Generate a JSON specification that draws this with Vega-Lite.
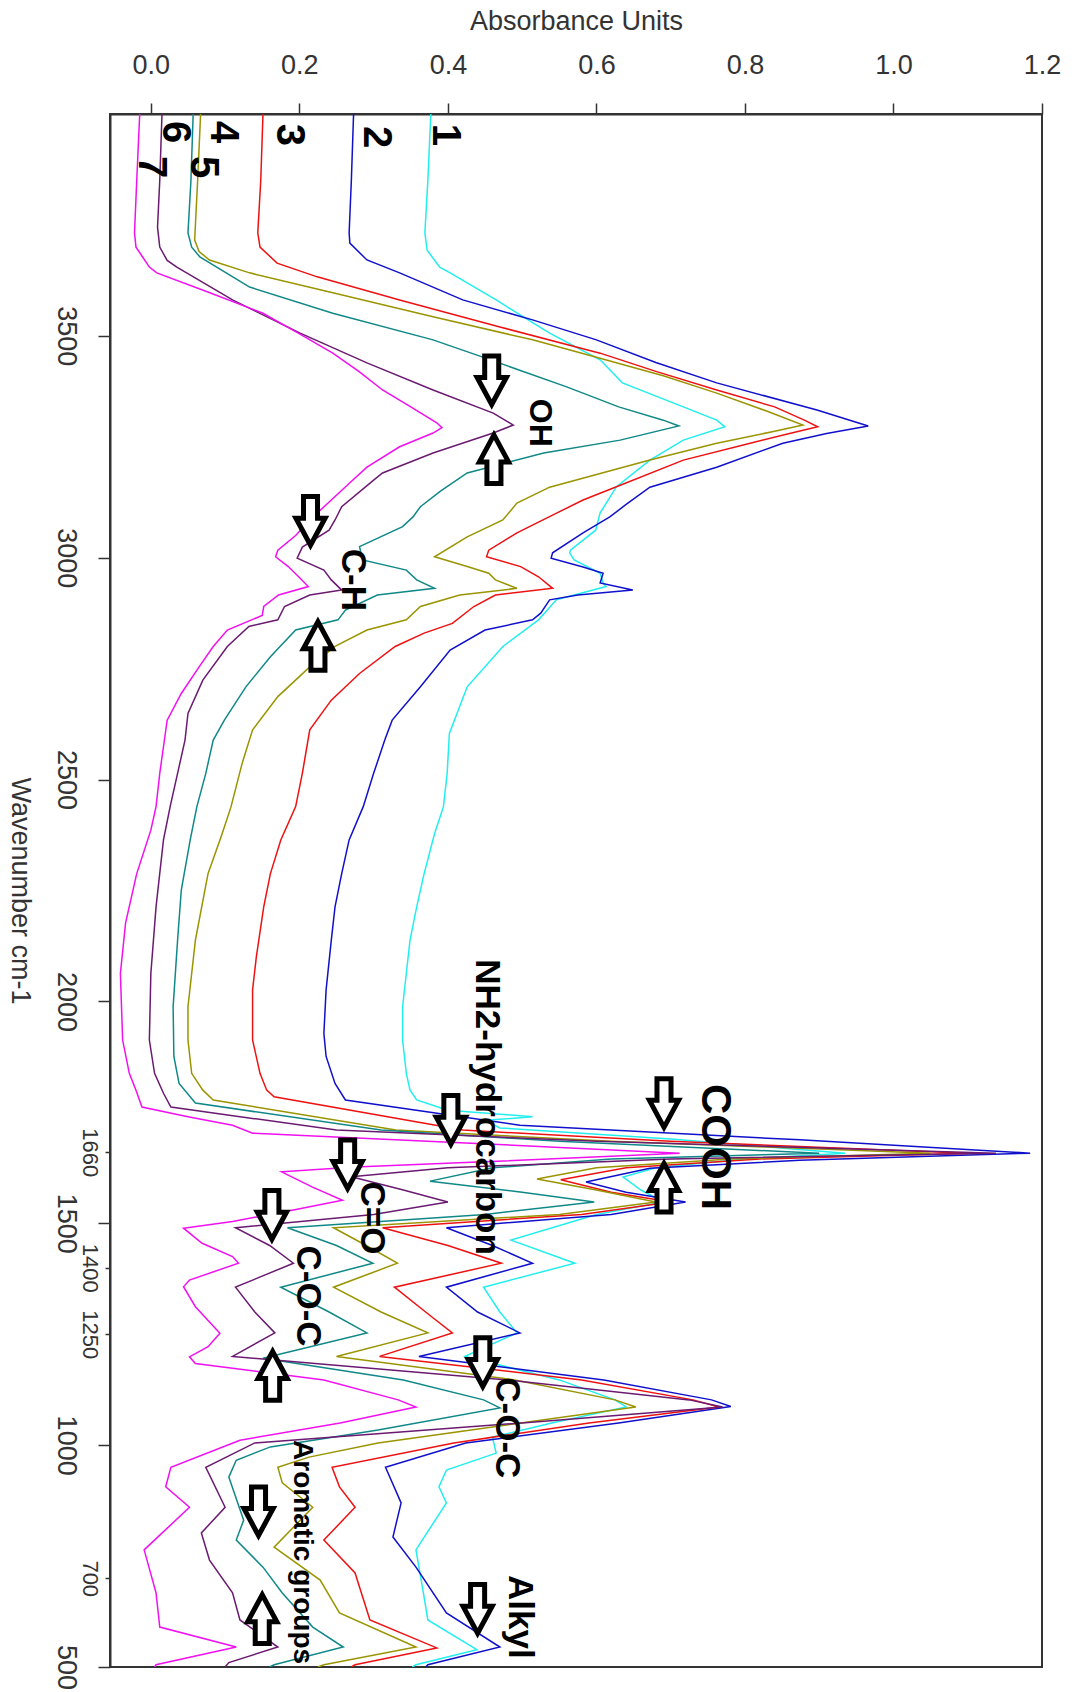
{
  "$schema": "https://vega.github.io/schema/vega-lite/v6.json",
  "width": 932,
  "height": 1553,
  "autosize": {"type": "none"},
  "padding": {"left": 110, "top": 114, "right": 30, "bottom": 25},
  "background": "white",
  "config": {
    "font": "Liberation Sans",
    "view": {"stroke": "#333333", "strokeWidth": 2}
  },
  "datasets": {
    "curves": [
      {"s":"1","w":4000,"a":0.377},{"s":"1","w":3850,"a":0.373},{"s":"1","w":3732,"a":0.369},{"s":"1","w":3693,"a":0.372},{"s":"1","w":3655,"a":0.389},{"s":"1","w":3642,"a":0.403},{"s":"1","w":3581,"a":0.465},{"s":"1","w":3506,"a":0.537},{"s":"1","w":3446,"a":0.605},{"s":"1","w":3394,"a":0.635},{"s":"1","w":3340,"a":0.717},{"s":"1","w":3310,"a":0.762},{"s":"1","w":3295,"a":0.773},{"s":"1","w":3265,"a":0.717},{"s":"1","w":3220,"a":0.672},{"s":"1","w":3160,"a":0.627},{"s":"1","w":3101,"a":0.605},{"s":"1","w":3062,"a":0.599},{"s":"1","w":3017,"a":0.565},{"s":"1","w":3011,"a":0.564},{"s":"1","w":2995,"a":0.570},{"s":"1","w":2965,"a":0.605},{"s":"1","w":2943,"a":0.609},{"s":"1","w":2935,"a":0.613},{"s":"1","w":2916,"a":0.570},{"s":"1","w":2905,"a":0.546},{"s":"1","w":2860,"a":0.522},{"s":"1","w":2800,"a":0.474},{"s":"1","w":2709,"a":0.426},{"s":"1","w":2604,"a":0.402},{"s":"1","w":2514,"a":0.399},{"s":"1","w":2439,"a":0.394},{"s":"1","w":2378,"a":0.382},{"s":"1","w":2288,"a":0.368},{"s":"1","w":2213,"a":0.358},{"s":"1","w":2138,"a":0.349},{"s":"1","w":2063,"a":0.344},{"s":"1","w":1988,"a":0.339},{"s":"1","w":1913,"a":0.339},{"s":"1","w":1838,"a":0.344},{"s":"1","w":1800,"a":0.349},{"s":"1","w":1778,"a":0.358},{"s":"1","w":1755,"a":0.400},{"s":"1","w":1740,"a":0.514},{"s":"1","w":1732,"a":0.450},{"s":"1","w":1715,"a":0.470},{"s":"1","w":1690,"a":0.700},{"s":"1","w":1658,"a":0.935},{"s":"1","w":1645,"a":0.800},{"s":"1","w":1625,"a":0.680},{"s":"1","w":1604,"a":0.636},{"s":"1","w":1575,"a":0.660},{"s":"1","w":1548,"a":0.690},{"s":"1","w":1520,"a":0.600},{"s":"1","w":1462,"a":0.485},{"s":"1","w":1410,"a":0.571},{"s":"1","w":1356,"a":0.448},{"s":"1","w":1300,"a":0.470},{"s":"1","w":1253,"a":0.493},{"s":"1","w":1200,"a":0.423},{"s":"1","w":1147,"a":0.550},{"s":"1","w":1102,"a":0.625},{"s":"1","w":1086,"a":0.640},{"s":"1","w":1050,"a":0.540},{"s":"1","w":1018,"a":0.460},{"s":"1","w":982,"a":0.465},{"s":"1","w":944,"a":0.398},{"s":"1","w":906,"a":0.388},{"s":"1","w":870,"a":0.398},{"s":"1","w":764,"a":0.357},{"s":"1","w":667,"a":0.367},{"s":"1","w":606,"a":0.373},{"s":"1","w":539,"a":0.439},{"s":"1","w":505,"a":0.357},{"s":"1","w":500,"a":0.352},
      {"s":"2","w":4000,"a":0.273},{"s":"2","w":3850,"a":0.270},{"s":"2","w":3732,"a":0.267},{"s":"2","w":3709,"a":0.268},{"s":"2","w":3671,"a":0.291},{"s":"2","w":3642,"a":0.335},{"s":"2","w":3581,"a":0.420},{"s":"2","w":3536,"a":0.514},{"s":"2","w":3491,"a":0.600},{"s":"2","w":3440,"a":0.680},{"s":"2","w":3394,"a":0.762},{"s":"2","w":3333,"a":0.897},{"s":"2","w":3297,"a":0.966},{"s":"2","w":3280,"a":0.910},{"s":"2","w":3258,"a":0.851},{"s":"2","w":3204,"a":0.762},{"s":"2","w":3159,"a":0.672},{"s":"2","w":3120,"a":0.640},{"s":"2","w":3092,"a":0.618},{"s":"2","w":3056,"a":0.582},{"s":"2","w":3011,"a":0.541},{"s":"2","w":2999,"a":0.539},{"s":"2","w":2979,"a":0.582},{"s":"2","w":2965,"a":0.609},{"s":"2","w":2943,"a":0.605},{"s":"2","w":2927,"a":0.649},{"s":"2","w":2916,"a":0.575},{"s":"2","w":2905,"a":0.537},{"s":"2","w":2875,"a":0.525},{"s":"2","w":2860,"a":0.514},{"s":"2","w":2837,"a":0.450},{"s":"2","w":2792,"a":0.403},{"s":"2","w":2709,"a":0.363},{"s":"2","w":2634,"a":0.325},{"s":"2","w":2589,"a":0.315},{"s":"2","w":2514,"a":0.300},{"s":"2","w":2439,"a":0.286},{"s":"2","w":2364,"a":0.267},{"s":"2","w":2288,"a":0.257},{"s":"2","w":2213,"a":0.248},{"s":"2","w":2138,"a":0.243},{"s":"2","w":2026,"a":0.236},{"s":"2","w":1928,"a":0.233},{"s":"2","w":1876,"a":0.236},{"s":"2","w":1815,"a":0.248},{"s":"2","w":1778,"a":0.262},{"s":"2","w":1721,"a":0.497},{"s":"2","w":1688,"a":0.874},{"s":"2","w":1658,"a":1.184},{"s":"2","w":1642,"a":0.874},{"s":"2","w":1624,"a":0.672},{"s":"2","w":1593,"a":0.586},{"s":"2","w":1570,"a":0.640},{"s":"2","w":1548,"a":0.720},{"s":"2","w":1520,"a":0.620},{"s":"2","w":1490,"a":0.398},{"s":"2","w":1450,"a":0.460},{"s":"2","w":1410,"a":0.514},{"s":"2","w":1356,"a":0.398},{"s":"2","w":1300,"a":0.440},{"s":"2","w":1253,"a":0.497},{"s":"2","w":1200,"a":0.361},{"s":"2","w":1147,"a":0.610},{"s":"2","w":1102,"a":0.755},{"s":"2","w":1087,"a":0.781},{"s":"2","w":1050,"a":0.630},{"s":"2","w":1005,"a":0.424},{"s":"2","w":950,"a":0.316},{"s":"2","w":870,"a":0.337},{"s":"2","w":793,"a":0.326},{"s":"2","w":725,"a":0.357},{"s":"2","w":622,"a":0.398},{"s":"2","w":545,"a":0.470},{"s":"2","w":505,"a":0.373},{"s":"2","w":500,"a":0.370},
      {"s":"3","w":4000,"a":0.151},{"s":"3","w":3850,"a":0.148},{"s":"3","w":3732,"a":0.144},{"s":"3","w":3700,"a":0.147},{"s":"3","w":3664,"a":0.170},{"s":"3","w":3633,"a":0.224},{"s":"3","w":3581,"a":0.335},{"s":"3","w":3520,"a":0.470},{"s":"3","w":3461,"a":0.605},{"s":"3","w":3420,"a":0.680},{"s":"3","w":3378,"a":0.762},{"s":"3","w":3340,"a":0.840},{"s":"3","w":3310,"a":0.880},{"s":"3","w":3295,"a":0.898},{"s":"3","w":3280,"a":0.860},{"s":"3","w":3258,"a":0.807},{"s":"3","w":3220,"a":0.717},{"s":"3","w":3160,"a":0.627},{"s":"3","w":3130,"a":0.582},{"s":"3","w":3101,"a":0.547},{"s":"3","w":3056,"a":0.493},{"s":"3","w":3017,"a":0.455},{"s":"3","w":3002,"a":0.452},{"s":"3","w":2980,"a":0.498},{"s":"3","w":2957,"a":0.522},{"s":"3","w":2931,"a":0.541},{"s":"3","w":2916,"a":0.464},{"s":"3","w":2890,"a":0.435},{"s":"3","w":2852,"a":0.406},{"s":"3","w":2830,"a":0.368},{"s":"3","w":2800,"a":0.329},{"s":"3","w":2739,"a":0.281},{"s":"3","w":2679,"a":0.243},{"s":"3","w":2612,"a":0.214},{"s":"3","w":2514,"a":0.204},{"s":"3","w":2439,"a":0.195},{"s":"3","w":2364,"a":0.175},{"s":"3","w":2288,"a":0.161},{"s":"3","w":2213,"a":0.152},{"s":"3","w":2100,"a":0.142},{"s":"3","w":2026,"a":0.137},{"s":"3","w":1913,"a":0.137},{"s":"3","w":1838,"a":0.147},{"s":"3","w":1800,"a":0.156},{"s":"3","w":1785,"a":0.166},{"s":"3","w":1710,"a":0.420},{"s":"3","w":1685,"a":0.700},{"s":"3","w":1658,"a":1.100},{"s":"3","w":1645,"a":0.820},{"s":"3","w":1625,"a":0.640},{"s":"3","w":1598,"a":0.552},{"s":"3","w":1570,"a":0.620},{"s":"3","w":1548,"a":0.700},{"s":"3","w":1520,"a":0.580},{"s":"3","w":1490,"a":0.312},{"s":"3","w":1450,"a":0.400},{"s":"3","w":1410,"a":0.472},{"s":"3","w":1356,"a":0.328},{"s":"3","w":1300,"a":0.370},{"s":"3","w":1253,"a":0.406},{"s":"3","w":1200,"a":0.308},{"s":"3","w":1147,"a":0.580},{"s":"3","w":1102,"a":0.730},{"s":"3","w":1086,"a":0.765},{"s":"3","w":1050,"a":0.590},{"s":"3","w":1005,"a":0.408},{"s":"3","w":950,"a":0.244},{"s":"3","w":906,"a":0.254},{"s":"3","w":860,"a":0.275},{"s":"3","w":786,"a":0.233},{"s":"3","w":712,"a":0.275},{"s":"3","w":606,"a":0.295},{"s":"3","w":543,"a":0.385},{"s":"3","w":505,"a":0.275},{"s":"3","w":500,"a":0.270},
      {"s":"4","w":4000,"a":0.067},{"s":"4","w":3850,"a":0.063},{"s":"4","w":3716,"a":0.059},{"s":"4","w":3690,"a":0.065},{"s":"4","w":3671,"a":0.079},{"s":"4","w":3642,"a":0.133},{"s":"4","w":3597,"a":0.245},{"s":"4","w":3543,"a":0.380},{"s":"4","w":3491,"a":0.514},{"s":"4","w":3452,"a":0.600},{"s":"4","w":3410,"a":0.690},{"s":"4","w":3371,"a":0.762},{"s":"4","w":3330,"a":0.830},{"s":"4","w":3299,"a":0.878},{"s":"4","w":3285,"a":0.840},{"s":"4","w":3258,"a":0.762},{"s":"4","w":3220,"a":0.672},{"s":"4","w":3159,"a":0.537},{"s":"4","w":3123,"a":0.493},{"s":"4","w":3085,"a":0.474},{"s":"4","w":3047,"a":0.426},{"s":"4","w":3002,"a":0.382},{"s":"4","w":2980,"a":0.426},{"s":"4","w":2965,"a":0.455},{"s":"4","w":2950,"a":0.464},{"s":"4","w":2931,"a":0.493},{"s":"4","w":2916,"a":0.416},{"s":"4","w":2890,"a":0.363},{"s":"4","w":2860,"a":0.344},{"s":"4","w":2837,"a":0.291},{"s":"4","w":2800,"a":0.248},{"s":"4","w":2754,"a":0.214},{"s":"4","w":2687,"a":0.171},{"s":"4","w":2612,"a":0.137},{"s":"4","w":2537,"a":0.123},{"s":"4","w":2439,"a":0.108},{"s":"4","w":2378,"a":0.096},{"s":"4","w":2288,"a":0.077},{"s":"4","w":2138,"a":0.060},{"s":"4","w":1988,"a":0.050},{"s":"4","w":1913,"a":0.050},{"s":"4","w":1838,"a":0.055},{"s":"4","w":1800,"a":0.070},{"s":"4","w":1778,"a":0.084},{"s":"4","w":1710,"a":0.330},{"s":"4","w":1685,"a":0.620},{"s":"4","w":1658,"a":1.050},{"s":"4","w":1645,"a":0.780},{"s":"4","w":1625,"a":0.600},{"s":"4","w":1600,"a":0.520},{"s":"4","w":1575,"a":0.600},{"s":"4","w":1548,"a":0.680},{"s":"4","w":1520,"a":0.550},{"s":"4","w":1490,"a":0.246},{"s":"4","w":1450,"a":0.290},{"s":"4","w":1410,"a":0.332},{"s":"4","w":1356,"a":0.246},{"s":"4","w":1300,"a":0.310},{"s":"4","w":1253,"a":0.373},{"s":"4","w":1200,"a":0.250},{"s":"4","w":1147,"a":0.490},{"s":"4","w":1102,"a":0.625},{"s":"4","w":1086,"a":0.653},{"s":"4","w":1041,"a":0.460},{"s":"4","w":1005,"a":0.306},{"s":"4","w":973,"a":0.213},{"s":"4","w":950,"a":0.171},{"s":"4","w":915,"a":0.177},{"s":"4","w":860,"a":0.218},{"s":"4","w":770,"a":0.166},{"s":"4","w":696,"a":0.228},{"s":"4","w":622,"a":0.254},{"s":"4","w":545,"a":0.357},{"s":"4","w":505,"a":0.233},{"s":"4","w":500,"a":0.225},
      {"s":"5","w":4000,"a":0.057},{"s":"5","w":3850,"a":0.054},{"s":"5","w":3732,"a":0.050},{"s":"5","w":3700,"a":0.055},{"s":"5","w":3678,"a":0.066},{"s":"5","w":3610,"a":0.133},{"s":"5","w":3551,"a":0.245},{"s":"5","w":3491,"a":0.380},{"s":"5","w":3452,"a":0.447},{"s":"5","w":3385,"a":0.560},{"s":"5","w":3340,"a":0.630},{"s":"5","w":3310,"a":0.690},{"s":"5","w":3297,"a":0.711},{"s":"5","w":3265,"a":0.632},{"s":"5","w":3236,"a":0.529},{"s":"5","w":3191,"a":0.426},{"s":"5","w":3150,"a":0.390},{"s":"5","w":3115,"a":0.363},{"s":"5","w":3092,"a":0.353},{"s":"5","w":3070,"a":0.339},{"s":"5","w":3025,"a":0.281},{"s":"5","w":2995,"a":0.285},{"s":"5","w":2972,"a":0.344},{"s":"5","w":2950,"a":0.358},{"s":"5","w":2931,"a":0.382},{"s":"5","w":2916,"a":0.305},{"s":"5","w":2882,"a":0.262},{"s":"5","w":2860,"a":0.252},{"s":"5","w":2837,"a":0.195},{"s":"5","w":2777,"a":0.161},{"s":"5","w":2709,"a":0.128},{"s":"5","w":2634,"a":0.099},{"s":"5","w":2589,"a":0.084},{"s":"5","w":2514,"a":0.074},{"s":"5","w":2439,"a":0.062},{"s":"5","w":2364,"a":0.053},{"s":"5","w":2251,"a":0.041},{"s":"5","w":2138,"a":0.036},{"s":"5","w":1988,"a":0.030},{"s":"5","w":1876,"a":0.031},{"s":"5","w":1815,"a":0.038},{"s":"5","w":1771,"a":0.060},{"s":"5","w":1710,"a":0.310},{"s":"5","w":1685,"a":0.550},{"s":"5","w":1658,"a":0.900},{"s":"5","w":1645,"a":0.620},{"s":"5","w":1625,"a":0.460},{"s":"5","w":1595,"a":0.376},{"s":"5","w":1570,"a":0.500},{"s":"5","w":1548,"a":0.597},{"s":"5","w":1520,"a":0.450},{"s":"5","w":1490,"a":0.184},{"s":"5","w":1450,"a":0.250},{"s":"5","w":1410,"a":0.299},{"s":"5","w":1356,"a":0.175},{"s":"5","w":1300,"a":0.240},{"s":"5","w":1253,"a":0.291},{"s":"5","w":1196,"a":0.151},{"s":"5","w":1147,"a":0.340},{"s":"5","w":1102,"a":0.448},{"s":"5","w":1084,"a":0.470},{"s":"5","w":1034,"a":0.306},{"s":"5","w":996,"a":0.161},{"s":"5","w":966,"a":0.115},{"s":"5","w":928,"a":0.105},{"s":"5","w":831,"a":0.125},{"s":"5","w":786,"a":0.115},{"s":"5","w":725,"a":0.151},{"s":"5","w":667,"a":0.177},{"s":"5","w":590,"a":0.218},{"s":"5","w":545,"a":0.259},{"s":"5","w":505,"a":0.166},{"s":"5","w":500,"a":0.160},
      {"s":"6","w":4000,"a":0.015},{"s":"6","w":3850,"a":0.012},{"s":"6","w":3745,"a":0.009},{"s":"6","w":3700,"a":0.012},{"s":"6","w":3670,"a":0.022},{"s":"6","w":3655,"a":0.035},{"s":"6","w":3581,"a":0.110},{"s":"6","w":3506,"a":0.201},{"s":"6","w":3439,"a":0.291},{"s":"6","w":3378,"a":0.380},{"s":"6","w":3326,"a":0.461},{"s":"6","w":3299,"a":0.488},{"s":"6","w":3281,"a":0.461},{"s":"6","w":3236,"a":0.380},{"s":"6","w":3191,"a":0.312},{"s":"6","w":3175,"a":0.300},{"s":"6","w":3115,"a":0.257},{"s":"6","w":3085,"a":0.248},{"s":"6","w":3062,"a":0.240},{"s":"6","w":3024,"a":0.204},{"s":"6","w":2999,"a":0.197},{"s":"6","w":2972,"a":0.233},{"s":"6","w":2950,"a":0.243},{"s":"6","w":2927,"a":0.257},{"s":"6","w":2916,"a":0.214},{"s":"6","w":2890,"a":0.180},{"s":"6","w":2860,"a":0.171},{"s":"6","w":2845,"a":0.132},{"s":"6","w":2800,"a":0.103},{"s":"6","w":2724,"a":0.070},{"s":"6","w":2649,"a":0.050},{"s":"6","w":2589,"a":0.046},{"s":"6","w":2514,"a":0.036},{"s":"6","w":2439,"a":0.026},{"s":"6","w":2364,"a":0.017},{"s":"6","w":2213,"a":0.007},{"s":"6","w":2063,"a":0.000},{"s":"6","w":1913,"a":-0.002},{"s":"6","w":1838,"a":0.005},{"s":"6","w":1793,"a":0.017},{"s":"6","w":1762,"a":0.027},{"s":"6","w":1710,"a":0.250},{"s":"6","w":1685,"a":0.600},{"s":"6","w":1658,"a":1.138},{"s":"6","w":1645,"a":0.700},{"s":"6","w":1625,"a":0.400},{"s":"6","w":1605,"a":0.270},{"s":"6","w":1575,"a":0.340},{"s":"6","w":1548,"a":0.400},{"s":"6","w":1520,"a":0.300},{"s":"6","w":1490,"a":0.114},{"s":"6","w":1450,"a":0.160},{"s":"6","w":1410,"a":0.192},{"s":"6","w":1356,"a":0.114},{"s":"6","w":1300,"a":0.140},{"s":"6","w":1253,"a":0.167},{"s":"6","w":1200,"a":0.110},{"s":"6","w":1147,"a":0.480},{"s":"6","w":1102,"a":0.725},{"s":"6","w":1086,"a":0.770},{"s":"6","w":1050,"a":0.500},{"s":"6","w":1005,"a":0.140},{"s":"6","w":950,"a":0.074},{"s":"6","w":860,"a":0.100},{"s":"6","w":802,"a":0.068},{"s":"6","w":741,"a":0.079},{"s":"6","w":667,"a":0.110},{"s":"6","w":606,"a":0.120},{"s":"6","w":545,"a":0.171},{"s":"6","w":510,"a":0.105},{"s":"6","w":500,"a":0.100},
      {"s":"7","w":4000,"a":-0.015},{"s":"7","w":3850,"a":-0.019},{"s":"7","w":3732,"a":-0.022},{"s":"7","w":3700,"a":-0.020},{"s":"7","w":3680,"a":-0.012},{"s":"7","w":3655,"a":-0.002},{"s":"7","w":3642,"a":0.008},{"s":"7","w":3600,"a":0.075},{"s":"7","w":3551,"a":0.151},{"s":"7","w":3500,"a":0.205},{"s":"7","w":3461,"a":0.245},{"s":"7","w":3420,"a":0.280},{"s":"7","w":3378,"a":0.312},{"s":"7","w":3340,"a":0.350},{"s":"7","w":3304,"a":0.385},{"s":"7","w":3293,"a":0.392},{"s":"7","w":3281,"a":0.380},{"s":"7","w":3250,"a":0.335},{"s":"7","w":3204,"a":0.291},{"s":"7","w":3175,"a":0.272},{"s":"7","w":3130,"a":0.243},{"s":"7","w":3085,"a":0.214},{"s":"7","w":3050,"a":0.195},{"s":"7","w":3017,"a":0.171},{"s":"7","w":3002,"a":0.168},{"s":"7","w":2980,"a":0.185},{"s":"7","w":2957,"a":0.199},{"s":"7","w":2935,"a":0.212},{"s":"7","w":2916,"a":0.172},{"s":"7","w":2890,"a":0.152},{"s":"7","w":2870,"a":0.150},{"s":"7","w":2837,"a":0.103},{"s":"7","w":2800,"a":0.084},{"s":"7","w":2754,"a":0.065},{"s":"7","w":2694,"a":0.041},{"s":"7","w":2634,"a":0.022},{"s":"7","w":2574,"a":0.017},{"s":"7","w":2514,"a":0.012},{"s":"7","w":2439,"a":0.007},{"s":"7","w":2386,"a":0.000},{"s":"7","w":2288,"a":-0.019},{"s":"7","w":2177,"a":-0.034},{"s":"7","w":2063,"a":-0.041},{"s":"7","w":1913,"a":-0.038},{"s":"7","w":1838,"a":-0.029},{"s":"7","w":1800,"a":-0.020},{"s":"7","w":1762,"a":-0.012},{"s":"7","w":1740,"a":0.050},{"s":"7","w":1721,"a":0.110},{"s":"7","w":1703,"a":0.137},{"s":"7","w":1681,"a":0.424},{"s":"7","w":1658,"a":0.712},{"s":"7","w":1638,"a":0.440},{"s":"7","w":1627,"a":0.275},{"s":"7","w":1616,"a":0.176},{"s":"7","w":1582,"a":0.217},{"s":"7","w":1552,"a":0.258},{"s":"7","w":1530,"a":0.192},{"s":"7","w":1504,"a":0.110},{"s":"7","w":1489,"a":0.044},{"s":"7","w":1455,"a":0.069},{"s":"7","w":1425,"a":0.110},{"s":"7","w":1410,"a":0.118},{"s":"7","w":1372,"a":0.052},{"s":"7","w":1357,"a":0.044},{"s":"7","w":1312,"a":0.060},{"s":"7","w":1252,"a":0.093},{"s":"7","w":1222,"a":0.077},{"s":"7","w":1199,"a":0.052},{"s":"7","w":1184,"a":0.060},{"s":"7","w":1147,"a":0.233},{"s":"7","w":1102,"a":0.333},{"s":"7","w":1086,"a":0.357},{"s":"7","w":1050,"a":0.255},{"s":"7","w":1011,"a":0.120},{"s":"7","w":950,"a":0.027},{"s":"7","w":906,"a":0.020},{"s":"7","w":860,"a":0.052},{"s":"7","w":764,"a":-0.009},{"s":"7","w":667,"a":0.007},{"s":"7","w":590,"a":0.012},{"s":"7","w":545,"a":0.115},{"s":"7","w":505,"a":0.007},{"s":"7","w":500,"a":0.005}
    ],
    "labels": [
      {"t":"1","g":"n","a":0.396,"w":3953},
      {"t":"2","g":"n","a":0.303,"w":3948},
      {"t":"3","g":"n","a":0.186,"w":3953},
      {"t":"4","g":"n","a":0.097,"w":3959},
      {"t":"5","g":"n","a":0.070,"w":3880},
      {"t":"6","g":"n","a":0.032,"w":3959},
      {"t":"7","g":"n","a":0.000,"w":3880},
      {"t":"OH","g":"o","a":0.524,"w":3304},
      {"t":"C-H","g":"m","a":0.272,"w":2950},
      {"t":"COOH","g":"l","a":0.760,"w":1672},
      {"t":"NH2-hydrocarbon","g":"m","a":0.452,"w":1762},
      {"t":"C=O","g":"m","a":0.298,"w":1512},
      {"t":"C-O-C","g":"m","a":0.211,"w":1336},
      {"t":"C-O-C","g":"m","a":0.480,"w":1039},
      {"t":"Aromatic groups","g":"s","a":0.204,"w":759},
      {"t":"Alkyl","g":"m","a":0.497,"w":613}
    ],
    "arrows": [
      {"d":"down","a":0.459,"w":3400},
      {"d":"up","a":0.462,"w":3222},
      {"d":"down","a":0.215,"w":3083},
      {"d":"up","a":0.225,"w":2801},
      {"d":"down","a":0.404,"w":1733},
      {"d":"down","a":0.691,"w":1771},
      {"d":"up","a":0.691,"w":1580},
      {"d":"down","a":0.265,"w":1633},
      {"d":"down","a":0.163,"w":1519},
      {"d":"up","a":0.164,"w":1156},
      {"d":"down","a":0.447,"w":1187},
      {"d":"down","a":0.145,"w":851},
      {"d":"up","a":0.150,"w":608},
      {"d":"down","a":0.440,"w":631}
    ]
  },
  "layer": [
    {
      "data": {"name": "curves"},
      "mark": {"type": "line", "strokeWidth": 1.5, "clip": true},
      "encoding": {
        "x": {
          "field": "a", "type": "quantitative",
          "scale": {"domain": [-0.055, 1.2], "nice": false, "zero": false},
          "axis": {
            "orient": "top", "title": "Absorbance Units",
            "values": [0, 0.2, 0.4, 0.6, 0.8, 1.0, 1.2], "format": ".1f",
            "grid": false, "domainColor": "#333333", "domainWidth": 2,
            "tickColor": "#333333", "tickWidth": 1.5, "tickSize": 11,
            "labelFont": "Liberation Sans", "labelFontSize": 27, "labelColor": "#333333", "labelPadding": 24,
            "labelFlush": false, "labelOverlap": false,
            "titleFont": "Liberation Sans", "titleFontSize": 27, "titleFontWeight": "normal", "titleColor": "#333333", "titlePadding": 16
          }
        },
        "y": {
          "field": "w", "type": "quantitative",
          "scale": {"domain": [500, 4000], "nice": false, "zero": false},
          "axis": {
            "orient": "left", "title": "Wavenumber cm-1", "format": "d",
            "values": [500, 700, 1000, 1250, 1400, 1500, 1660, 2000, 2500, 3000, 3500],
            "grid": false, "domainColor": "#333333", "domainWidth": 2,
            "tickColor": "#333333", "tickWidth": 1.5,
            "tickSize": {"condition": {"test": "indexof([700,1250,1400,1660], datum.value) >= 0", "value": 5}, "value": 12},
            "labelAngle": 90,
            "labelFont": "Liberation Sans",
            "labelFontSize": {"condition": {"test": "indexof([700,1250,1400,1660], datum.value) >= 0", "value": 22}, "value": 27},
            "labelPadding": {"condition": {"test": "indexof([700,1250,1400,1660], datum.value) >= 0", "value": 6}, "value": 20},
            "labelColor": "#333333", "labelFlush": false, "labelOverlap": false, "labelBound": false,
            "titleFont": "Liberation Sans", "titleFontSize": 27, "titleFontWeight": "normal", "titleColor": "#333333",
            "titleAngle": 90, "titleBaseline": "top", "titlePadding": 20
          }
        },
        "color": {
          "field": "s", "type": "nominal", "legend": null,
          "scale": {"domain": ["1","2","3","4","5","6","7"], "range": ["#22EEEE","#1010CC","#EE1111","#9A9400","#108888","#6A1A70","#F010F0"]}
        },
        "order": {"field": "w", "type": "quantitative", "sort": "descending"}
      }
    },
    {
      "data": {"name": "arrows"},
      "mark": {"type": "point", "filled": true, "fill": "white", "stroke": "black", "strokeWidth": 5, "strokeJoin": "miter", "size": 2916, "opacity": 1, "fillOpacity": 1, "strokeOpacity": 1},
      "encoding": {
        "x": {"field": "a", "type": "quantitative"},
        "y": {"field": "w", "type": "quantitative"},
        "shape": {
          "field": "d", "type": "nominal", "legend": null,
          "scale": {"domain": ["down","up"], "range": ["M -0.26 -0.9 L 0.26 -0.9 L 0.26 -0.1 L 0.54 -0.1 L 0 0.9 L -0.54 -0.1 L -0.26 -0.1 Z", "M -0.26 0.9 L 0.26 0.9 L 0.26 0.1 L 0.54 0.1 L 0 -0.9 L -0.54 0.1 L -0.26 0.1 Z"]}
        }
      }
    },
    {
      "data": {"name": "labels"},
      "transform": [{"filter": "datum.g == 'n'"}],
      "mark": {"type": "text", "angle": 90, "fontWeight": "bold", "font": "Liberation Sans", "fontSize": 40, "align": "center", "baseline": "middle", "color": "black"},
      "encoding": {
        "x": {"field": "a", "type": "quantitative"},
        "y": {"field": "w", "type": "quantitative"},
        "text": {"field": "t"}
      }
    },
    {
      "data": {"name": "labels"},
      "transform": [{"filter": "datum.g == 'l'"}],
      "mark": {"type": "text", "angle": 90, "fontWeight": "bold", "font": "Liberation Sans", "fontSize": 42, "align": "center", "baseline": "middle", "color": "black"},
      "encoding": {
        "x": {"field": "a", "type": "quantitative"},
        "y": {"field": "w", "type": "quantitative"},
        "text": {"field": "t"}
      }
    },
    {
      "data": {"name": "labels"},
      "transform": [{"filter": "datum.g == 'm'"}],
      "mark": {"type": "text", "angle": 90, "fontWeight": "bold", "font": "Liberation Sans", "fontSize": 35, "align": "center", "baseline": "middle", "color": "black"},
      "encoding": {
        "x": {"field": "a", "type": "quantitative"},
        "y": {"field": "w", "type": "quantitative"},
        "text": {"field": "t"}
      }
    },
    {
      "data": {"name": "labels"},
      "transform": [{"filter": "datum.g == 'o'"}],
      "mark": {"type": "text", "angle": 90, "fontWeight": "bold", "font": "Liberation Sans", "fontSize": 32, "align": "center", "baseline": "middle", "color": "black"},
      "encoding": {
        "x": {"field": "a", "type": "quantitative"},
        "y": {"field": "w", "type": "quantitative"},
        "text": {"field": "t"}
      }
    },
    {
      "data": {"name": "labels"},
      "transform": [{"filter": "datum.g == 's'"}],
      "mark": {"type": "text", "angle": 90, "fontWeight": "bold", "font": "Liberation Sans", "fontSize": 28, "align": "center", "baseline": "middle", "color": "black"},
      "encoding": {
        "x": {"field": "a", "type": "quantitative"},
        "y": {"field": "w", "type": "quantitative"},
        "text": {"field": "t"}
      }
    }
  ]
}
